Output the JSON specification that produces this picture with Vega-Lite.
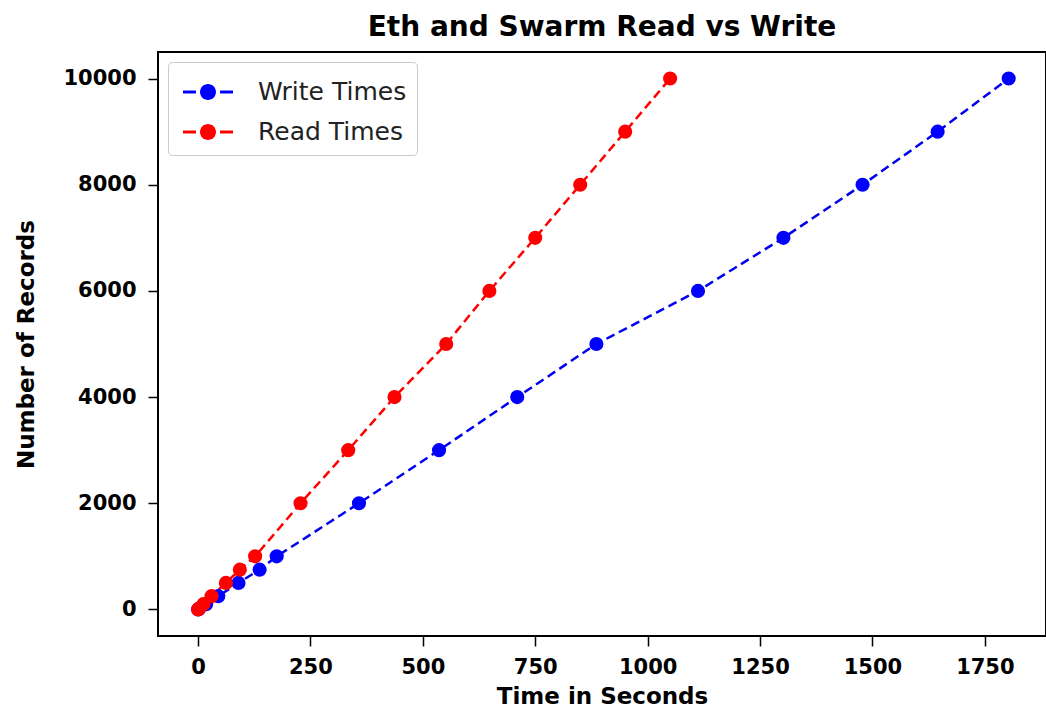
{
  "$schema": "https://vega.github.io/schema/vega-lite/v6.json",
  "autosize": {"type": "none"},
  "padding": {"left": 158, "top": 52, "right": 0, "bottom": 83},
  "width": 888,
  "height": 584,
  "background": "white",
  "title": {
    "text": "Eth and Swarm Read vs Write",
    "font": "DejaVu Sans",
    "fontSize": 28,
    "fontWeight": "bold",
    "color": "black",
    "offset": 10
  },
  "config": {
    "view": {"stroke": "black", "strokeWidth": 2},
    "axis": {
      "grid": false,
      "domain": false,
      "tickColor": "black",
      "tickWidth": 1.5,
      "tickSize": 10,
      "labelFont": "DejaVu Sans",
      "labelFontSize": 21,
      "labelFontWeight": "bold",
      "labelColor": "black",
      "titleFont": "DejaVu Sans",
      "titleFontSize": 23,
      "titleFontWeight": "bold",
      "titleColor": "black"
    },
    "legend": {
      "orient": "top-left",
      "offset": 10,
      "padding": 10,
      "strokeColor": "#cccccc",
      "fillColor": "white",
      "cornerRadius": 4,
      "symbolType": "M-1.25,-0.07 L-0.6,-0.07 L-0.6,0.07 L-1.25,0.07 Z M0.6,-0.07 L1.25,-0.07 L1.25,0.07 L0.6,0.07 Z M-0.4,0 A0.4,0.4 0 1,0 0.4,0 A0.4,0.4 0 1,0 -0.4,0 Z",
      "symbolSize": 1600,
      "symbolStrokeWidth": 0,
      "symbolOffset": 10,
      "labelOffset": 30,
      "labelFont": "DejaVu Sans",
      "labelFontSize": 25,
      "labelColor": "#222222",
      "rowPadding": 7
    }
  },
  "data": {
    "values": [
      {"series": "Write Times", "time": 0.3, "records": 1},
      {"series": "Write Times", "time": 2, "records": 10},
      {"series": "Write Times", "time": 18, "records": 100},
      {"series": "Write Times", "time": 45, "records": 250},
      {"series": "Write Times", "time": 90, "records": 500},
      {"series": "Write Times", "time": 137, "records": 750},
      {"series": "Write Times", "time": 175, "records": 1000},
      {"series": "Write Times", "time": 358, "records": 2000},
      {"series": "Write Times", "time": 536, "records": 3000},
      {"series": "Write Times", "time": 710, "records": 4000},
      {"series": "Write Times", "time": 886, "records": 5000},
      {"series": "Write Times", "time": 1112, "records": 6000},
      {"series": "Write Times", "time": 1302, "records": 7000},
      {"series": "Write Times", "time": 1478, "records": 8000},
      {"series": "Write Times", "time": 1645, "records": 9000},
      {"series": "Write Times", "time": 1803, "records": 10000},
      {"series": "Read Times", "time": 0.2, "records": 1},
      {"series": "Read Times", "time": 1.5, "records": 10},
      {"series": "Read Times", "time": 12, "records": 100},
      {"series": "Read Times", "time": 30, "records": 250},
      {"series": "Read Times", "time": 62, "records": 500},
      {"series": "Read Times", "time": 93, "records": 750},
      {"series": "Read Times", "time": 127, "records": 1000},
      {"series": "Read Times", "time": 228, "records": 2000},
      {"series": "Read Times", "time": 334, "records": 3000},
      {"series": "Read Times", "time": 437, "records": 4000},
      {"series": "Read Times", "time": 552, "records": 5000},
      {"series": "Read Times", "time": 648, "records": 6000},
      {"series": "Read Times", "time": 750, "records": 7000},
      {"series": "Read Times", "time": 850, "records": 8000},
      {"series": "Read Times", "time": 950, "records": 9000},
      {"series": "Read Times", "time": 1050, "records": 10000}
    ]
  },
  "encoding": {
    "x": {
      "field": "time",
      "type": "quantitative",
      "title": "Time in Seconds",
      "scale": {"domain": [-89, 1886], "nice": false, "zero": false},
      "axis": {"values": [0, 250, 500, 750, 1000, 1250, 1500, 1750], "format": "d", "labelPadding": 10, "titlePadding": 8}
    },
    "y": {
      "field": "records",
      "type": "quantitative",
      "title": "Number of Records",
      "scale": {"domain": [-500, 10500], "nice": false, "zero": false},
      "axis": {"values": [0, 2000, 4000, 6000, 8000, 10000], "format": "d", "labelPadding": 12, "titlePadding": 24}
    }
  },
  "layer": [
    {
      "transform": [{"filter": "datum.series === 'Write Times'"}],
      "mark": {"type": "line", "strokeDash": [9, 5], "strokeWidth": 2.5, "color": "#0000ee"},
      "encoding": {}
    },
    {
      "transform": [{"filter": "datum.series === 'Read Times'"}],
      "mark": {"type": "line", "strokeDash": [9, 5], "strokeWidth": 2.5, "color": "#ff0000"},
      "encoding": {}
    },
    {
      "mark": {"type": "point", "filled": true, "size": 200, "opacity": 1},
      "encoding": {
        "color": {
          "field": "series",
          "type": "nominal",
          "title": null,
          "scale": {"domain": ["Write Times", "Read Times"], "range": ["#0000ff", "#ff0000"]}
        }
      }
    }
  ]
}
